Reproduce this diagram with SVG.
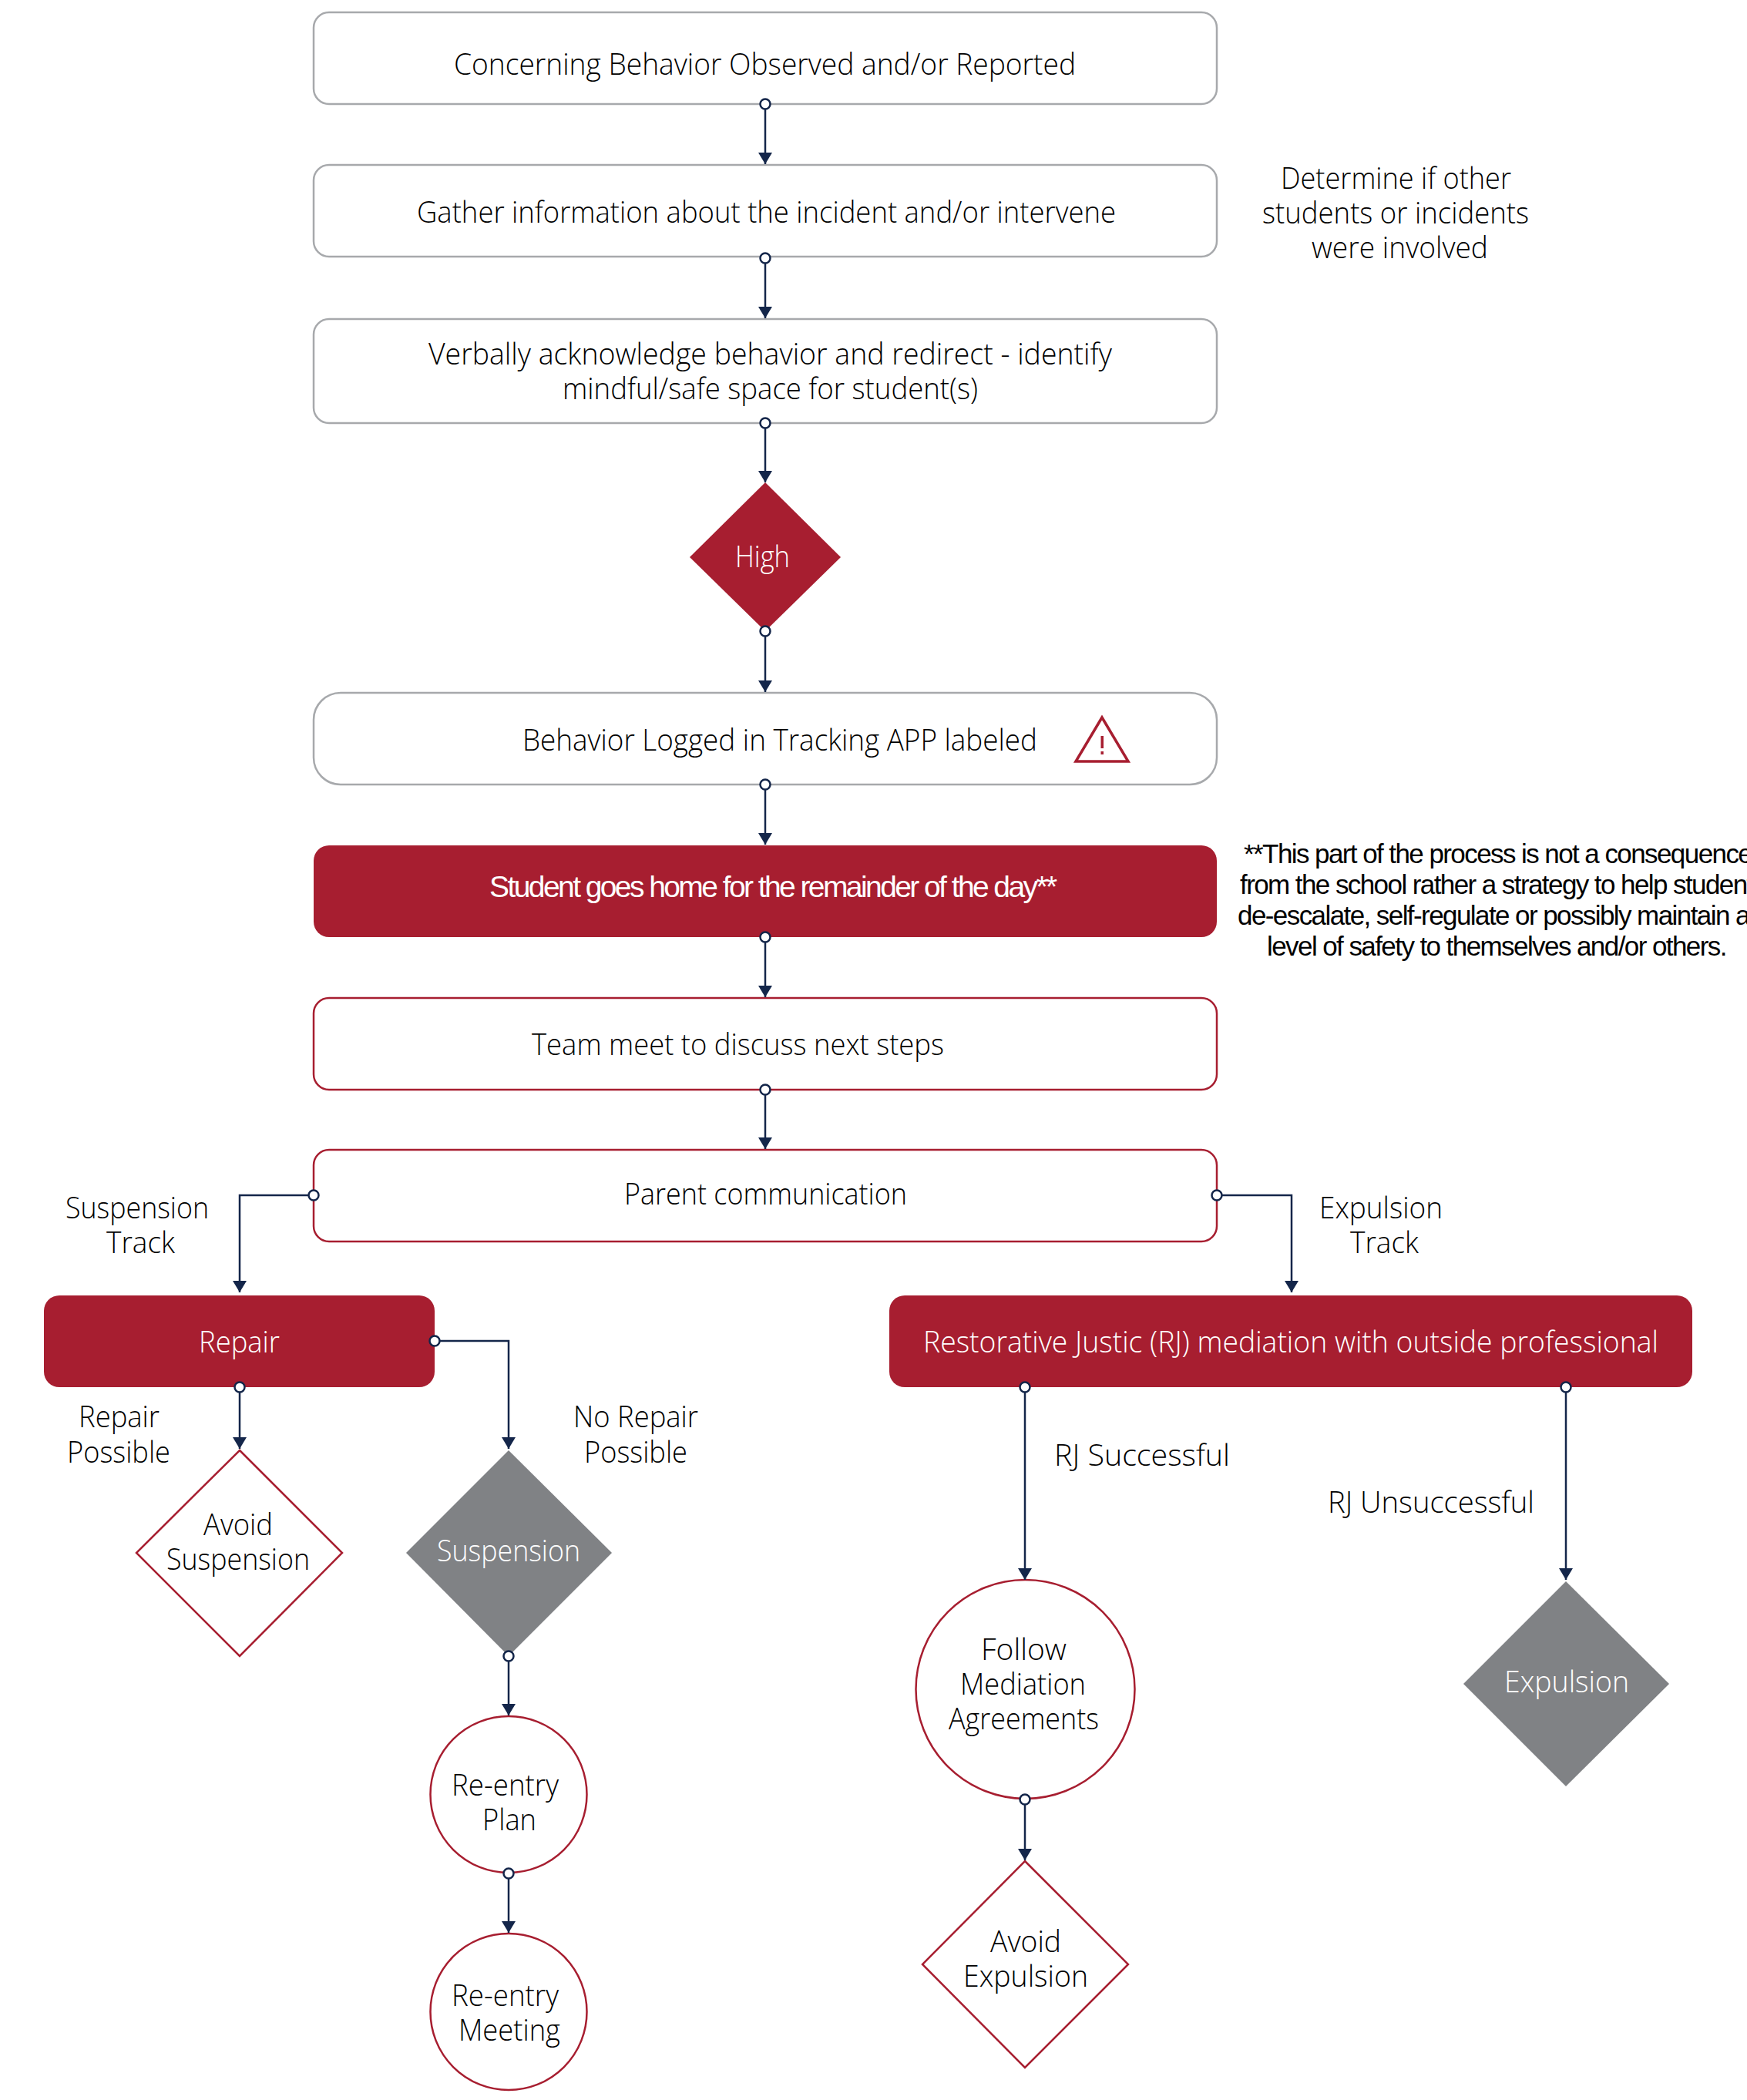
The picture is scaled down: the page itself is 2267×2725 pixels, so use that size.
<svg xmlns="http://www.w3.org/2000/svg" width="2267" height="2725" viewBox="0 0 2267 2725">
<style>
text{font-family:"Open Sans","Noto Sans","DejaVu Sans",sans-serif;font-weight:300;font-size:38px;fill:#000}
text.w{fill:#fff}
text.note{font-family:"Liberation Sans",Arial,sans-serif;font-weight:400;font-size:35px;fill:#000;letter-spacing:-1.58px}
text.st{font-family:"Liberation Sans",Arial,sans-serif;font-weight:400;font-size:39px;fill:#fff;letter-spacing:-2.58px}
.g{fill:#fff;stroke:#a7a9ac;stroke-width:2.5}
.r{fill:#fff;stroke:#a71e30;stroke-width:2.5}
.f{fill:#a71e30;stroke:none}
.d{fill:#808285;stroke:none}
.c{fill:none;stroke:#14264a;stroke-width:2.5;marker-end:url(#a)}
.p{fill:#fff;stroke:#14264a;stroke-width:2.5}
</style>
<defs><marker id="a" markerUnits="userSpaceOnUse" markerWidth="15" markerHeight="18" refX="15" refY="9" orient="auto"><path d="M0 0L15 9L0 18Z" fill="#14264a"/></marker></defs>
<rect width="2267" height="2725" fill="#fff"/>
<g id="n1"><rect class="g" x="407" y="16" width="1172" height="119" rx="20"/><text x="589" y="96.500" textLength="807" lengthAdjust="spacingAndGlyphs">Concerning Behavior Observed and/or Reported</text></g>
<g id="n2"><rect class="g" x="407" y="214" width="1172" height="119" rx="20"/><text x="541" y="289" textLength="907" lengthAdjust="spacingAndGlyphs">Gather information about the incident and/or intervene</text></g>
<g id="n3"><rect class="g" x="407" y="414" width="1172" height="135" rx="20"/><text x="556" y="473" textLength="887" lengthAdjust="spacingAndGlyphs">Verbally acknowledge behavior and redirect - identify</text><text x="730" y="518" textLength="539" lengthAdjust="spacingAndGlyphs">mindful/safe space for student(s)</text></g>
<g id="n4"><polygon class="f" points="993,626 1091,723 993,819 895,723"/><text class="w" x="954" y="736" textLength="71" lengthAdjust="spacingAndGlyphs">High</text></g>
<g id="n5"><rect class="g" x="407" y="899" width="1172" height="119" rx="35"/><text x="678" y="974" textLength="668" lengthAdjust="spacingAndGlyphs">Behavior Logged in Tracking APP labeled</text><polygon points="1430,931 1396,988 1464,988" fill="none" stroke="#a71e30" stroke-width="3.5"/><rect x="1428.5" y="955" width="3.5" height="16" fill="#a71e30"/><rect x="1428.5" y="975" width="3.5" height="4" fill="#a71e30"/></g>
<g id="n6"><rect class="f" x="407" y="1097" width="1172" height="119" rx="20"/><text class="st" x="635" y="1164">Student goes home for the remainder of the day**</text></g>
<g id="n7"><rect class="r" x="407" y="1295" width="1172" height="119" rx="20"/><text x="690" y="1369" textLength="535" lengthAdjust="spacingAndGlyphs">Team meet to discuss next steps</text></g>
<g id="n8"><rect class="r" x="407" y="1492" width="1172" height="119" rx="20"/><text x="810" y="1563" textLength="367" lengthAdjust="spacingAndGlyphs">Parent communication</text></g>
<g id="n9"><rect class="f" x="57" y="1681" width="507" height="119" rx="20"/><text class="w" x="258" y="1755" textLength="105" lengthAdjust="spacingAndGlyphs">Repair</text></g>
<g id="n10"><rect class="f" x="1154" y="1681" width="1042" height="119" rx="20"/><text class="w" x="1198" y="1755" textLength="954" lengthAdjust="spacingAndGlyphs">Restorative Justic (RJ) mediation with outside professional</text></g>
<g id="n11"><polygon class="r" points="311,1882 444,2015 311,2149 177,2015"/><text x="264" y="1992" textLength="90" lengthAdjust="spacingAndGlyphs">Avoid</text><text x="216" y="2037" textLength="186" lengthAdjust="spacingAndGlyphs">Suspension</text></g>
<g id="n12"><polygon class="d" points="660,1882 794,2015 660,2149 527,2015"/><text class="w" x="567" y="2026" textLength="186" lengthAdjust="spacingAndGlyphs">Suspension</text></g>
<g id="n13"><circle class="r" cx="660" cy="2328.500" r="101.500"/><text x="586" y="2330" textLength="139" lengthAdjust="spacingAndGlyphs">Re-entry</text><text x="626" y="2375" textLength="70" lengthAdjust="spacingAndGlyphs">Plan</text></g>
<g id="n14"><circle class="r" cx="660" cy="2610.500" r="101.500"/><text x="586" y="2603" textLength="139" lengthAdjust="spacingAndGlyphs">Re-entry</text><text x="595" y="2648" textLength="132" lengthAdjust="spacingAndGlyphs">Meeting</text></g>
<g id="n15"><circle class="r" cx="1330.500" cy="2192" r="142"/><text x="1273" y="2154" textLength="111" lengthAdjust="spacingAndGlyphs">Follow</text><text x="1246" y="2199" textLength="163" lengthAdjust="spacingAndGlyphs">Mediation</text><text x="1231" y="2244" textLength="195" lengthAdjust="spacingAndGlyphs">Agreements</text></g>
<g id="n16"><polygon class="r" points="1330,2415 1464,2549 1330,2683 1197,2549"/><text x="1285" y="2533" textLength="92" lengthAdjust="spacingAndGlyphs">Avoid</text><text x="1250" y="2578" textLength="162" lengthAdjust="spacingAndGlyphs">Expulsion</text></g>
<g id="n17"><polygon class="d" points="2032,2052 2166,2185 2032,2318 1899,2185"/><text class="w" x="1952" y="2196" textLength="162" lengthAdjust="spacingAndGlyphs">Expulsion</text></g>
<g id="labels">
<text x="1662" y="244.500" textLength="299" lengthAdjust="spacingAndGlyphs">Determine if other</text><text x="1638" y="289.500" textLength="346" lengthAdjust="spacingAndGlyphs">students or incidents</text><text x="1702" y="334.500" textLength="229" lengthAdjust="spacingAndGlyphs">were involved</text>
<text class="note" x="1614" y="1120">**This part of the process is not a consequence</text>
<text class="note" x="1609" y="1160">from the school rather a strategy to help students</text>
<text class="note" x="1606" y="1200">de-escalate, self-regulate or possibly maintain a</text>
<text class="note" x="1644" y="1240">level of safety to themselves and/or others.</text>
<text x="85" y="1581" textLength="186" lengthAdjust="spacingAndGlyphs">Suspension</text><text x="138" y="1626" textLength="89" lengthAdjust="spacingAndGlyphs">Track</text>
<text x="1712" y="1581" textLength="160" lengthAdjust="spacingAndGlyphs">Expulsion</text><text x="1752" y="1626" textLength="89" lengthAdjust="spacingAndGlyphs">Track</text>
<text x="102" y="1852" textLength="105" lengthAdjust="spacingAndGlyphs">Repair</text><text x="87" y="1898" textLength="134" lengthAdjust="spacingAndGlyphs">Possible</text>
<text x="744" y="1852" textLength="162" lengthAdjust="spacingAndGlyphs">No Repair</text><text x="758" y="1898" textLength="134" lengthAdjust="spacingAndGlyphs">Possible</text>
<text x="1368" y="1902" textLength="228" lengthAdjust="spacingAndGlyphs">RJ Successful</text>
<text x="1723" y="1963" textLength="268" lengthAdjust="spacingAndGlyphs">RJ Unsuccessful</text>
</g>
<g id="connectors">
<path class="c" d="M993 135V213"/><path class="c" d="M993 335V413"/><path class="c" d="M993 549V626"/><path class="c" d="M993 819V898"/><path class="c" d="M993 1018V1096"/><path class="c" d="M993 1216V1294"/><path class="c" d="M993 1414V1491"/>
<path class="c" d="M407 1551H311V1677"/><path class="c" d="M1579 1551H1676V1677"/><path class="c" d="M311 1800V1880"/><path class="c" d="M564 1740H660V1880"/><path class="c" d="M660 2149V2226"/><path class="c" d="M660 2431V2508"/><path class="c" d="M1330 1800V2050"/><path class="c" d="M2032 1800V2050"/><path class="c" d="M1330 2335V2414"/>
<circle class="p" cx="993" cy="135" r="6.500"/><circle class="p" cx="993" cy="335" r="6.500"/><circle class="p" cx="993" cy="549" r="6.500"/><circle class="p" cx="993" cy="819" r="6.500"/><circle class="p" cx="993" cy="1018" r="6.500"/><circle class="p" cx="993" cy="1216" r="6.500"/><circle class="p" cx="993" cy="1414" r="6.500"/>
<circle class="p" cx="407" cy="1551" r="6.500"/><circle class="p" cx="1579" cy="1551" r="6.500"/><circle class="p" cx="311" cy="1800" r="6.500"/><circle class="p" cx="564" cy="1740" r="6.500"/><circle class="p" cx="660" cy="2149" r="6.500"/><circle class="p" cx="660" cy="2431" r="6.500"/><circle class="p" cx="1330" cy="1800" r="6.500"/><circle class="p" cx="2032" cy="1800" r="6.500"/><circle class="p" cx="1330" cy="2335" r="6.500"/>
</g>
</svg>
